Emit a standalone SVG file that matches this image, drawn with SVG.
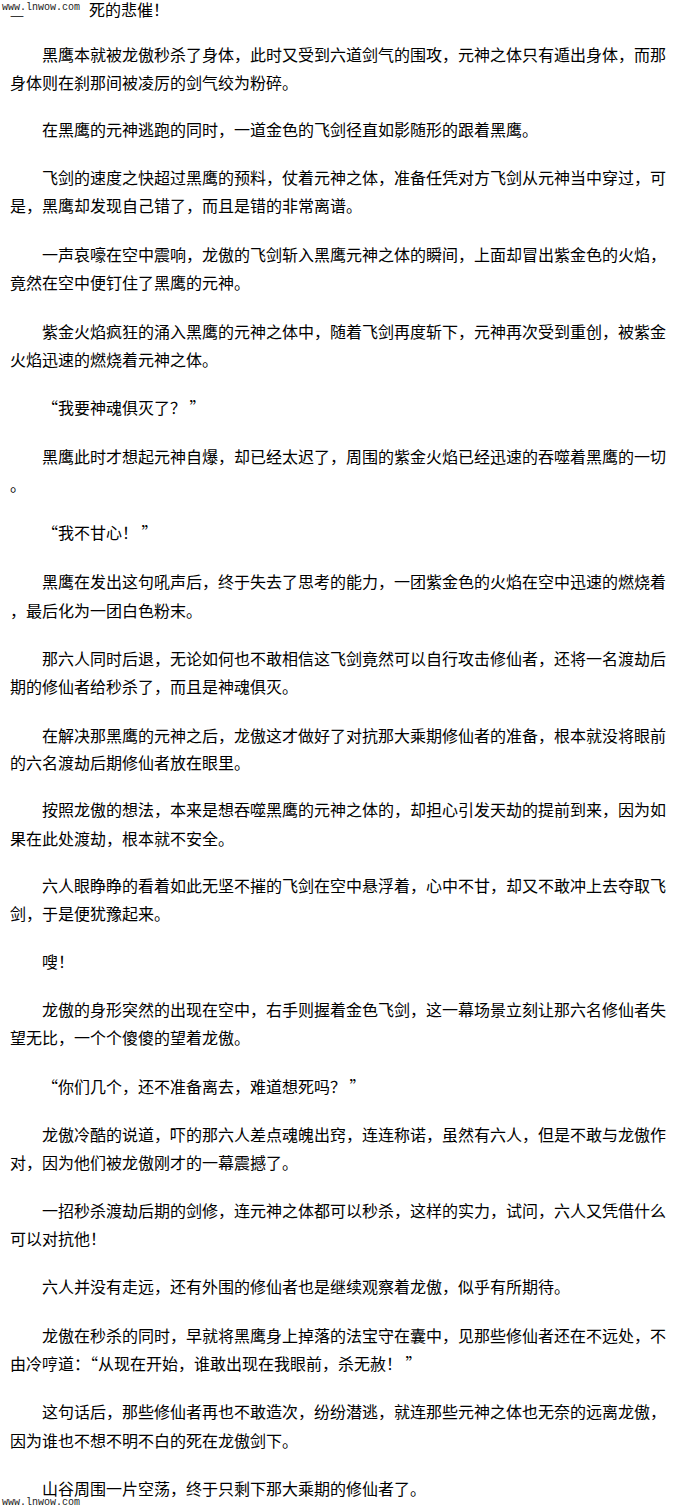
<svg xmlns="http://www.w3.org/2000/svg" width="680" height="1509" viewBox="0 0 680 1509">
<style>
.t{font-family:"Noto Sans CJK SC","Noto Sans",sans-serif;font-size:16px;fill:#000}
.wm{font-family:"Liberation Mono","DejaVu Sans Mono",monospace;font-size:10px;fill:#222}
</style>
<rect x="0" y="0" width="680" height="1509" fill="#fff"/>
<g id="header">
<text class="wm" x="2" y="10">www.lnwow.com</text>
<text x="10" y="20" font-family="Noto Sans CJK SC, sans-serif" font-size="8" textLength="14" lengthAdjust="spacingAndGlyphs">一</text>
<text class="t" x="89" y="16">死的悲催！</text>
</g>
<g id="p1">
<text class="t" x="42" y="61" textLength="624" lengthAdjust="spacing">黑鹰本就被龙傲秒杀了身体，此时又受到六道剑气的围攻，元神之体只有遁出身体，而那</text>
<text class="t" x="10" y="89">身体则在刹那间被凌厉的剑气绞为粉碎。</text>
</g>
<g id="p2">
<text class="t" x="42" y="136">在黑鹰的元神逃跑的同时，一道金色的飞剑径直如影随形的跟着黑鹰。</text>
</g>
<g id="p3">
<text class="t" x="42" y="184" textLength="624" lengthAdjust="spacing">飞剑的速度之快超过黑鹰的预料，仗着元神之体，准备任凭对方飞剑从元神当中穿过，可</text>
<text class="t" x="10" y="212">是，黑鹰却发现自己错了，而且是错的非常离谱。</text>
</g>
<g id="p4">
<text class="t" x="42" y="261" textLength="624" lengthAdjust="spacing">一声哀嚎在空中震响，龙傲的飞剑斩入黑鹰元神之体的瞬间，上面却冒出紫金色的火焰，</text>
<text class="t" x="10" y="289">竟然在空中便钉住了黑鹰的元神。</text>
</g>
<g id="p5">
<text class="t" x="42" y="338" textLength="624" lengthAdjust="spacing">紫金火焰疯狂的涌入黑鹰的元神之体中，随着飞剑再度斩下，元神再次受到重创，被紫金</text>
<text class="t" x="10" y="366">火焰迅速的燃烧着元神之体。</text>
</g>
<g id="p6">
<text class="t" x="42" y="414">“我要神魂俱灭了？ ”</text>
</g>
<g id="p7">
<text class="t" x="42" y="463" textLength="624" lengthAdjust="spacing">黑鹰此时才想起元神自爆，却已经太迟了，周围的紫金火焰已经迅速的吞噬着黑鹰的一切</text>
<text class="t" x="10" y="491">。</text>
</g>
<g id="p8">
<text class="t" x="42" y="539">“我不甘心！ ”</text>
</g>
<g id="p9">
<text class="t" x="42" y="588" textLength="624" lengthAdjust="spacing">黑鹰在发出这句吼声后，终于失去了思考的能力，一团紫金色的火焰在空中迅速的燃烧着</text>
<text class="t" x="10" y="617">，最后化为一团白色粉末。</text>
</g>
<g id="p10">
<text class="t" x="42" y="665" textLength="624" lengthAdjust="spacing">那六人同时后退，无论如何也不敢相信这飞剑竟然可以自行攻击修仙者，还将一名渡劫后</text>
<text class="t" x="10" y="693">期的修仙者给秒杀了，而且是神魂俱灭。</text>
</g>
<g id="p11">
<text class="t" x="42" y="742" textLength="624" lengthAdjust="spacing">在解决那黑鹰的元神之后，龙傲这才做好了对抗那大乘期修仙者的准备，根本就没将眼前</text>
<text class="t" x="10" y="769">的六名渡劫后期修仙者放在眼里。</text>
</g>
<g id="p12">
<text class="t" x="42" y="816" textLength="624" lengthAdjust="spacing">按照龙傲的想法，本来是想吞噬黑鹰的元神之体的，却担心引发天劫的提前到来，因为如</text>
<text class="t" x="10" y="845">果在此处渡劫，根本就不安全。</text>
</g>
<g id="p13">
<text class="t" x="42" y="892" textLength="624" lengthAdjust="spacing">六人眼睁睁的看着如此无坚不摧的飞剑在空中悬浮着，心中不甘，却又不敢冲上去夺取飞</text>
<text class="t" x="10" y="920">剑，于是便犹豫起来。</text>
</g>
<g id="p14">
<text class="t" x="42" y="968">嗖！</text>
</g>
<g id="p15">
<text class="t" x="42" y="1016" textLength="624" lengthAdjust="spacing">龙傲的身形突然的出现在空中，右手则握着金色飞剑，这一幕场景立刻让那六名修仙者失</text>
<text class="t" x="10" y="1044">望无比，一个个傻傻的望着龙傲。</text>
</g>
<g id="p16">
<text class="t" x="42" y="1093">“你们几个，还不准备离去，难道想死吗？ ”</text>
</g>
<g id="p17">
<text class="t" x="42" y="1141" textLength="624" lengthAdjust="spacing">龙傲冷酷的说道，吓的那六人差点魂魄出窍，连连称诺，虽然有六人，但是不敢与龙傲作</text>
<text class="t" x="10" y="1169">对，因为他们被龙傲刚才的一幕震撼了。</text>
</g>
<g id="p18">
<text class="t" x="42" y="1217" textLength="624" lengthAdjust="spacing">一招秒杀渡劫后期的剑修，连元神之体都可以秒杀，这样的实力，试问，六人又凭借什么</text>
<text class="t" x="10" y="1245">可以对抗他！</text>
</g>
<g id="p19">
<text class="t" x="42" y="1293">六人并没有走远，还有外围的修仙者也是继续观察着龙傲，似乎有所期待。</text>
</g>
<g id="p20">
<text class="t" x="42" y="1342" textLength="624" lengthAdjust="spacing">龙傲在秒杀的同时，早就将黑鹰身上掉落的法宝守在囊中，见那些修仙者还在不远处，不</text>
<text class="t" x="10" y="1370">由冷哼道：“从现在开始，谁敢出现在我眼前，杀无赦！ ”</text>
</g>
<g id="p21">
<text class="t" x="42" y="1418" textLength="624" lengthAdjust="spacing">这句话后，那些修仙者再也不敢造次，纷纷潜逃，就连那些元神之体也无奈的远离龙傲，</text>
<text class="t" x="10" y="1447">因为谁也不想不明不白的死在龙傲剑下。</text>
</g>
<g id="p22">
<text class="t" x="42" y="1495">山谷周围一片空荡，终于只剩下那大乘期的修仙者了。</text>
</g>
<g id="footer">
<text class="wm" x="2" y="1505">www.lnwow.com</text>
</g>
<g id="connectors"/>
</svg>
